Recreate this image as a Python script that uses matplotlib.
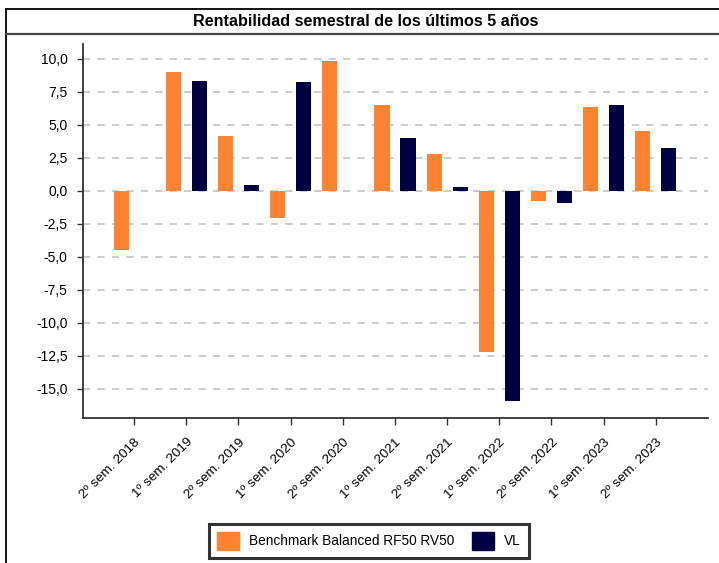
import numpy as np
import matplotlib
matplotlib.use("Agg")
from matplotlib import pyplot as plt
from matplotlib.lines import Line2D
from matplotlib.patches import Patch
from matplotlib.ticker import FuncFormatter

plt.rcParams['font.family'] = ['Liberation Sans', 'DejaVu Sans']

# Datos
semestres = ["2º sem. 2018", "1º sem. 2019", "2º sem. 2019", "1º sem. 2020",
             "2º sem. 2020", "1º sem. 2021", "2º sem. 2021", "1º sem. 2022",
             "2º sem. 2022", "1º sem. 2023", "2º sem. 2023"]
benchmark = [-4.5, 9.0, 4.15, -2.05, 9.85, 6.5, 2.8, -12.2, -0.75, 6.3, 4.55]
vl = [np.nan, 8.3, 0.45, 8.25, -0.05, 4.0, 0.3, -15.9, -0.9, 6.5, 3.2]

NARANJA = '#FF8330'
AZUL = '#000042'

fig = plt.figure(figsize=(7.19, 5.63), dpi=100)
ax = fig.add_axes([83 / 719, 1 - 418 / 563, 625 / 719, 374 / 563])

x = np.arange(len(semestres))
ax.bar(x - 0.25, benchmark, width=0.29, color=NARANJA, zorder=3)
ax.bar(x + 0.25, vl, width=0.29, color=AZUL, zorder=3)

ax.set_xlim(-0.98, 11.0)
ax.set_ylim(-17.2, 11.1)
ax.set_yticks(np.arange(-15, 10.1, 2.5))
ax.yaxis.set_major_formatter(FuncFormatter(lambda v, p: f"{v:.1f}".replace('.', ',')))
ax.set_xticks(x)
ax.set_xticklabels(semestres, rotation=45, ha='right', rotation_mode='anchor')

ax.grid(axis='y', color='#C8C8C8', linestyle=(0, (4, 4)), linewidth=1.3, zorder=0)
for s in ['top', 'right']:
    ax.spines[s].set_visible(False)
for s in ['left', 'bottom']:
    ax.spines[s].set_color('#333333')
    ax.spines[s].set_linewidth(1.3)
ax.tick_params(axis='y', length=4, width=1, color='#333333', pad=7, labelsize=10)
ax.tick_params(axis='x', length=5, width=1, color='#333333', pad=8, labelsize=9.7)

# Marco y título
fig.add_artist(Line2D([6 / 719, 6 / 719], [0, 1 - 9 / 563], color='black', lw=1.3))
fig.add_artist(Line2D([6 / 719, 1], [1 - 9 / 563, 1 - 9 / 563], color='black', lw=1.3))
fig.add_artist(Line2D([6 / 719, 1], [1 - 34 / 563, 1 - 34 / 563], color='#444444', lw=1.6))
fig.text(366 / 719, 1 - 21.5 / 563, "Rentabilidad semestral de los últimos 5 años",
         ha='center', va='center', fontsize=11.6, fontweight='bold')

# Leyenda
handles = [Patch(color=NARANJA, label="Benchmark Balanced RF50 RV50"),
           Patch(color=AZUL, label="VL")]
leg = fig.legend(handles=handles, loc='center', bbox_to_anchor=(369 / 719, 1 - 541 / 563),
                 ncol=2, frameon=True, fancybox=False, fontsize=9.8,
                 handlelength=1.6, handleheight=1.6, handletextpad=0.75,
                 columnspacing=1.3, borderpad=0.6)
leg.get_frame().set_edgecolor('black')
leg.get_frame().set_linewidth(2.2)

fig.savefig("out.png", dpi=100)
